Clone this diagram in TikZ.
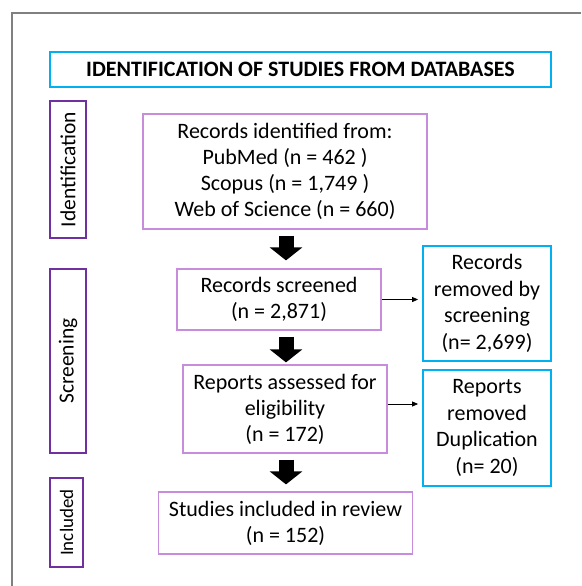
\documentclass[tikz,border=0pt]{standalone}
\usepackage{fontspec}
\setmainfont{Carlito}
\usetikzlibrary{arrows.meta}
\definecolor{titleblue}{RGB}{0,176,240}
\definecolor{sidepurple}{RGB}{112,48,160}
\definecolor{boxpurple}{RGB}{200,140,220}
\begin{document}
\begin{tikzpicture}[x=1pt,y=-1pt,
  mainbox/.style={draw=boxpurple,line width=1.2pt,align=center,inner sep=0pt,font=\fontsize{22}{26}\selectfont},
  sidebox/.style={draw=sidepurple,line width=2.8pt,rotate=90,inner sep=0pt,font=\fontsize{21.5}{26}\selectfont},
  removedbox/.style={draw=titleblue,line width=1.8pt,align=center,inner sep=0pt,minimum width=128pt,font=\fontsize{22}{26.5}\selectfont},
  blockarrow/.style={line width=15pt,shorten <=6pt,-{Triangle[length=13pt,width=32pt]}},
  thinarrow/.style={line width=0.8pt,shorten >=4pt,-{Triangle[length=6pt,width=5pt]}}]
  \useasboundingbox (0,0) rectangle (581,586);
  \draw[gray,line width=1.2pt] (12,586) -- (12,13) -- (581,13);
  \coordinate (axis) at (286,0);
  \node[draw=titleblue,line width=2.5pt,minimum width=501pt,minimum height=35pt,inner sep=0pt,font=\fontsize{22}{26}\selectfont\bfseries] (title) at (300.5,69.5) {IDENTIFICATION OF STUDIES FROM DATABASES};
  \node[sidebox,minimum width=137pt,minimum height=36pt] (identside) at (68,169.5) {Identification};
  \node[sidebox,minimum width=184pt,minimum height=36pt] (screenside) at (68,361) {Screening};
  \node[sidebox,minimum width=89pt,minimum height=33pt,font=\fontsize{19}{24}\selectfont] (inclside) at (66.5,522.5) {Included};
  \node[mainbox,minimum width=284pt,minimum height=115pt] (ident) at (285,171.5) {Records identified from:\\PubMed (n = 462 )\\Scopus (n = 1,749 )\\Web of Science (n = 660)};
  \node[mainbox,minimum width=204pt,minimum height=61pt] (screen) at (279,299.5) {Records screened\\(n = 2,871)};
  \node[mainbox,minimum width=204pt,minimum height=88pt] (assess) at (285,409) {Reports assessed for\\eligibility\\(n = 172)};
  \node[mainbox,minimum width=254pt,minimum height=62pt] (incl) at (285.5,523) {Studies included in review\\(n = 152)};
  \node[removedbox,minimum height=115pt] (removedscreen) at (487,303.5) {Records\\removed by\\screening\\(n= 2,699)};
  \node[removedbox,minimum height=116pt] (removeddup) at (487,428) {Reports\\removed\\Duplication\\(n= 20)};
  \draw[blockarrow,shorten >=8pt] (ident.south -| axis) -- (screen.north -| axis);
  \draw[blockarrow,shorten >=2pt] (screen.south -| axis) -- (assess.north -| axis);
  \draw[blockarrow,shorten >=7pt] (assess.south -| axis) -- (incl.north -| axis);
  \draw[thinarrow] (screen.east) -- (screen.east -| removedscreen.west);
  \draw[thinarrow] ([yshift=5pt]assess.east) -- ([yshift=5pt]assess.east -| removeddup.west);
\end{tikzpicture}
\end{document}
